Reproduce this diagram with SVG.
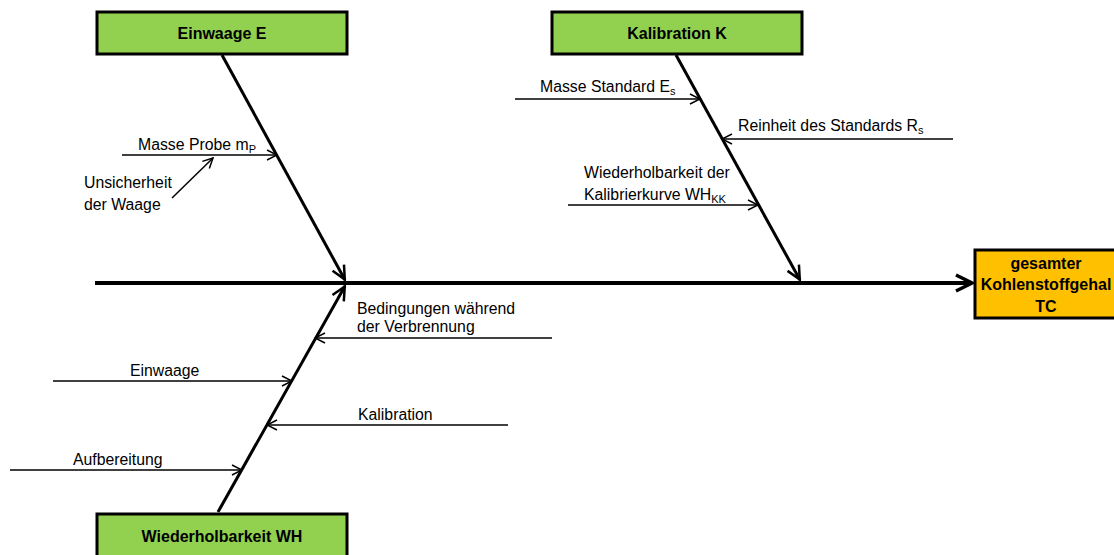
<svg xmlns="http://www.w3.org/2000/svg" width="1114" height="555" viewBox="0 0 1114 555">
  <style>
    .lbl { font-family: "Liberation Sans", Arial, sans-serif; font-size: 15.8px; fill: #000; }
    .sub { font-size: 11px; }
    .box-title { font-family: "Liberation Sans", Arial, sans-serif; font-size: 16px; font-weight: bold; fill: #000; text-anchor: middle; }
    .cat { fill: #92D050; stroke: #000; stroke-width: 3; }
    .effect { fill: #FFC000; stroke: #000; stroke-width: 3; }
    .thin { stroke: #000; stroke-width: 1.5; fill: none; marker-end: url(#openArrow); }
    .bone { stroke: #000; stroke-width: 3; fill: none; marker-end: url(#boneArrow); }
    .spine { stroke: #000; stroke-width: 4; fill: none; marker-end: url(#spineArrow); }
  </style>
  <defs>
    <marker id="openArrow" viewBox="0 0 12 12" refX="11" refY="6" markerWidth="12" markerHeight="12" markerUnits="userSpaceOnUse" orient="auto">
      <path d="M1,1 L11,6 L1,11" fill="none" stroke="#000" stroke-width="1.5"/>
    </marker>
    <marker id="boneArrow" viewBox="0 0 16 16" refX="15" refY="8" markerWidth="16" markerHeight="16" markerUnits="userSpaceOnUse" orient="auto">
      <path d="M1,1.5 L14.5,8 L1,14.5" fill="none" stroke="#000" stroke-width="2.5"/>
    </marker>
    <marker id="spineArrow" viewBox="0 0 20 20" refX="18" refY="10" markerWidth="20" markerHeight="20" markerUnits="userSpaceOnUse" orient="auto">
      <path d="M2,2 L18,10 L2,18" fill="none" stroke="#000" stroke-width="3.5"/>
    </marker>
  </defs>

  <!-- connectors -->
  <g id="connectors">
    <line class="spine" x1="95" y1="283" x2="972" y2="283"/>
    <line class="bone" x1="222" y1="55" x2="345" y2="280"/>
    <line class="bone" x1="676" y1="55" x2="800" y2="280"/>
    <line class="bone" x1="218" y1="512" x2="345" y2="286"/>

    <line class="thin" x1="122" y1="155" x2="277" y2="155"/>
    <line class="thin" x1="172" y1="198" x2="213" y2="158"/>
    <line class="thin" x1="515" y1="99" x2="700" y2="99"/>
    <line class="thin" x1="953" y1="139" x2="722" y2="139"/>
    <line class="thin" x1="568" y1="205" x2="758" y2="205"/>
    <line class="thin" x1="552" y1="338" x2="315" y2="338"/>
    <line class="thin" x1="53" y1="381" x2="292" y2="381"/>
    <line class="thin" x1="508" y1="425" x2="267" y2="425"/>
    <line class="thin" x1="10" y1="470" x2="242" y2="470"/>
  </g>

  <!-- category boxes -->
  <g id="einwaage-e">
    <rect class="cat" x="97" y="12" width="250" height="42"/>
    <text class="box-title" x="222" y="39">Einwaage E</text>
  </g>
  <g id="kalibration-k">
    <rect class="cat" x="552" y="12" width="250" height="42"/>
    <text class="box-title" x="677" y="39">Kalibration K</text>
  </g>
  <g id="wiederholbarkeit-wh">
    <rect class="cat" x="97" y="514" width="250" height="50"/>
    <text class="box-title" x="222" y="542">Wiederholbarkeit WH</text>
  </g>
  <g id="gesamter-tc">
    <rect class="effect" x="975" y="250" width="150" height="68"/>
    <text class="box-title" x="1046" y="269">gesamter</text>
    <text class="box-title" x="1046" y="290">Kohlenstoffgehal</text>
    <text class="box-title" x="1046" y="312">TC</text>
  </g>

  <!-- cause labels -->
  <g id="masse-probe">
    <text class="lbl" x="138" y="150">Masse Probe m<tspan class="sub" dy="3">P</tspan></text>
  </g>
  <g id="unsicherheit-waage">
    <text class="lbl" x="84" y="188">Unsicherheit</text>
    <text class="lbl" x="84" y="210">der Waage</text>
  </g>
  <g id="masse-standard">
    <text class="lbl" x="540" y="92">Masse Standard E<tspan class="sub" dy="3">s</tspan></text>
  </g>
  <g id="reinheit-standard">
    <text class="lbl" x="738" y="131">Reinheit des Standards R<tspan class="sub" dy="3">s</tspan></text>
  </g>
  <g id="wh-kalibrierkurve">
    <text class="lbl" x="584" y="178">Wiederholbarkeit der</text>
    <text class="lbl" x="584" y="200">Kalibrierkurve WH<tspan class="sub" dy="3">KK</tspan></text>
  </g>
  <g id="bedingungen">
    <text class="lbl" x="357" y="314">Bedingungen während</text>
    <text class="lbl" x="357" y="332">der Verbrennung</text>
  </g>
  <g id="einwaage">
    <text class="lbl" x="130" y="376">Einwaage</text>
  </g>
  <g id="kalibration">
    <text class="lbl" x="358" y="420">Kalibration</text>
  </g>
  <g id="aufbereitung">
    <text class="lbl" x="73" y="465">Aufbereitung</text>
  </g>
</svg>
